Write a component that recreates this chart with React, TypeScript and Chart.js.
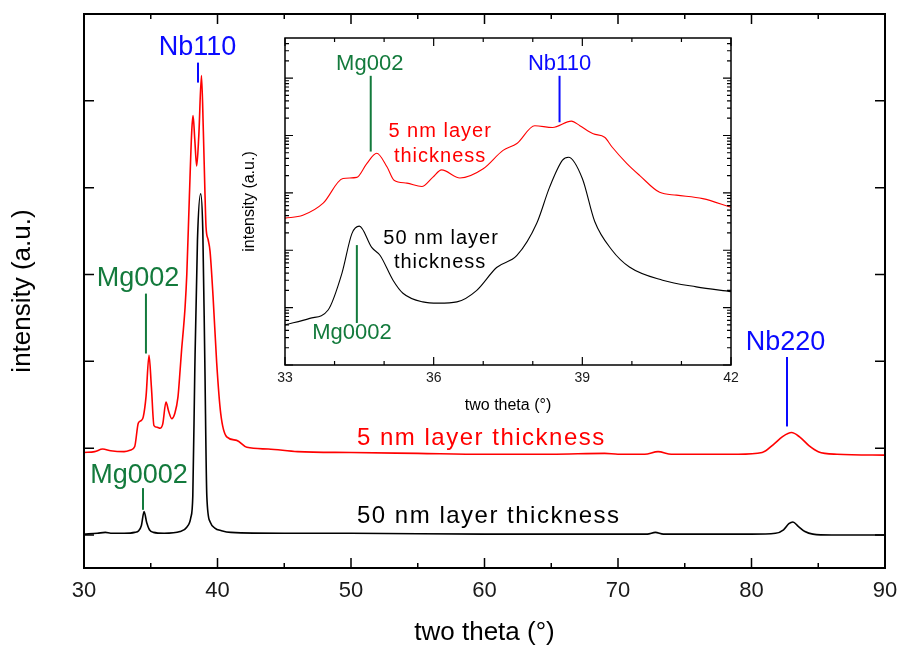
import React, { useEffect, useRef } from 'react';
import { Chart, registerables } from 'chart.js';

Chart.register(...registerables);

const FONT = '"Liberation Sans", Arial, Helvetica, sans-serif';
const RED = '#ff0000';
const BLUE = '#0a0aff';
const GREEN = '#137a3c';

// ---------- main chart data (2θ in degrees, intensity in arbitrary offset units) ----------
const mainX50 = [30, 31, 31.6, 32, 33, 33.8, 34.1, 34.3, 34.5, 34.7, 34.9, 35.2, 36, 37.2, 37.7, 38.0, 38.15, 38.3, 38.5, 38.74, 38.9, 39.05, 39.2, 39.45, 39.8, 40.3, 41, 45, 50, 60, 70, 72.2, 72.8, 73.4, 80, 81.8, 82.4, 82.8, 83.1, 83.5, 84, 84.6, 86, 90];
const main50 = [0.01, 0.02, 0.03, 0.02, 0.02, 0.03, 0.05, 0.11, 0.27, 0.14, 0.06, 0.03, 0.02, 0.04, 0.09, 0.2, 0.45, 1.9, 3.4, 3.93, 3.5, 2.0, 0.45, 0.15, 0.08, 0.05, 0.03, 0.02, 0.02, 0.01, 0.01, 0.01, 0.03, 0.01, 0.01, 0.02, 0.06, 0.13, 0.15, 0.1, 0.04, 0.01, 0.0, 0.0];

const mainX5 = [30, 30.8, 31.4, 32, 33, 33.5, 33.8, 34.07, 34.3, 34.44, 34.65, 34.87, 35.05, 35.24, 35.5, 35.69, 35.9, 36.14, 36.35, 36.57, 36.8, 37.04, 37.2, 37.32, 37.44, 37.57, 37.7, 37.89, 38.07, 38.17, 38.3, 38.44, 38.6, 38.8, 38.94, 39.05, 39.14, 39.3, 39.44, 39.67, 39.94, 40.24, 40.69, 41.44, 42.2, 43.8, 46, 50, 55, 60, 65, 69, 70, 72, 73, 74, 76, 79, 80.8, 81.7, 82.3, 83, 83.6, 84.3, 85, 86.4, 90];
const main5 = [0.95, 0.96, 0.99, 0.97, 0.96, 0.98, 1.02, 1.29, 1.32, 1.36, 1.6, 2.07, 1.7, 1.26, 1.24, 1.23, 1.28, 1.53, 1.42, 1.34, 1.4, 1.59, 1.9, 2.15, 2.36, 2.62, 3.0, 3.88, 4.65, 4.83, 4.55, 4.25, 4.6, 5.29, 4.65, 4.0, 3.55, 3.4, 3.27, 2.74, 1.98, 1.4, 1.13, 1.09, 1.01, 0.99, 0.96, 0.95, 0.94, 0.93, 0.93, 0.94, 0.93, 0.93, 0.96, 0.93, 0.93, 0.93, 0.95, 1.05, 1.13, 1.18, 1.13, 1.03, 0.96, 0.93, 0.92];

const mainXTicks = [30, 40, 50, 60, 70, 80, 90];
const mainXMinor = [35, 45, 55, 65, 75, 85];
const mainYTicks = [0, 1, 2, 3, 4, 5, 6];

// ---------- inset data (log intensity) ----------
const insetX5 = [33.0, 33.36, 33.77, 34.17, 34.45, 34.65, 34.85, 35.06, 35.2, 35.46, 35.76, 35.98, 36.16, 36.53, 37.0, 37.4, 37.68, 38.04, 38.4, 38.78, 38.95, 39.22, 39.45, 39.6, 39.9, 40.16, 40.56, 40.9, 41.43, 42.0];
const inset5 = [363, 407, 661, 1778, 1862, 3236, 4898, 2818, 1660, 1479, 1288, 1862, 2512, 1820, 2630, 5495, 7244, 14800, 13800, 17800, 14800, 10700, 9330, 6300, 3240, 2000, 1020, 912, 794, 562];

const insetX50 = [33.0, 33.5, 33.87, 34.15, 34.35, 34.5, 34.75, 34.92, 35.18, 35.38, 35.78, 36.1, 36.47, 36.87, 37.27, 37.68, 38.08, 38.34, 38.6, 38.72, 39.0, 39.25, 39.6, 39.95, 40.62, 41.3, 42.0];
const inset50 = [5.0, 6.5, 9.1, 40, 195, 263, 112, 81, 30, 17.8, 12.6, 12.0, 12.6, 20, 50, 81, 295, 1259, 3715, 4169, 1778, 316, 100, 51, 30, 23, 19];

const insetXTicks = [33, 36, 39, 42];
const insetXMinor = [34, 35, 37, 38, 40, 41];
const insetYDecades = [1, 10, 100, 1000, 10000, 100000];
const insetYMinor = [2, 3, 4, 5, 6, 7, 8, 9, 20, 30, 40, 50, 60, 70, 80, 90, 200, 300, 400, 500, 600, 700, 800, 900, 2000, 3000, 4000, 5000, 6000, 7000, 8000, 9000, 20000, 30000, 40000, 50000, 60000, 70000, 80000, 90000, 200000, 300000, 400000];

// ---------- annotations ----------
type Label = { text: string; x: number; y: number; color: string; size: number; align?: CanvasTextAlign; spacing?: number };
type Marker = { x: number; y1: number; y2: number; color: string };

const mainLabels: Label[] = [
  { text: 'Nb110', x: 38.5, y: 5.61, color: BLUE, size: 27 },
  { text: 'Mg002', x: 34.04, y: 2.95, color: GREEN, size: 27 },
  { text: 'Mg0002', x: 34.12, y: 0.68, color: GREEN, size: 27 },
  { text: 'Nb220', x: 82.55, y: 2.22, color: BLUE, size: 27 },
  { text: '5 nm layer thickness', x: 50.45, y: 1.11, color: RED, size: 24, align: 'left', spacing: 1.5 },
  { text: '50 nm layer thickness', x: 50.45, y: 0.21, color: '#000', size: 24, align: 'left', spacing: 1.5 },
];
const mainMarkers: Marker[] = [
  { x: 38.54, y1: 5.44, y2: 5.21, color: BLUE },
  { x: 34.64, y1: 2.78, y2: 2.09, color: GREEN },
  { x: 34.42, y1: 0.54, y2: 0.29, color: GREEN },
  { x: 82.66, y1: 2.05, y2: 1.25, color: BLUE },
];

const insetLabels: Label[] = [
  { text: 'Mg002', x: 34.71, y: 177800, color: GREEN, size: 22 },
  { text: 'Nb110', x: 38.54, y: 177800, color: BLUE, size: 22 },
  { text: '5 nm layer', x: 36.13, y: 11750, color: RED, size: 20, spacing: 1 },
  { text: 'thickness', x: 36.13, y: 4266, color: RED, size: 20, spacing: 1 },
  { text: '50 nm layer', x: 36.15, y: 162, color: '#000', size: 20, spacing: 1 },
  { text: 'thickness', x: 36.13, y: 61.7, color: '#000', size: 20, spacing: 1 },
  { text: 'Mg0002', x: 34.35, y: 3.6, color: GREEN, size: 22 },
];
const insetMarkers: Marker[] = [
  { x: 34.73, y1: 109600, y2: 5250, color: GREEN },
  { x: 38.54, y1: 109600, y2: 17000, color: BLUE },
  { x: 34.45, y1: 123, y2: 5.4, color: GREEN },
];

const pts = (xs: number[], ys: number[]) => xs.map((x, i) => ({ x, y: ys[i] }));

type FrameCfg = { xMajor: number[]; xMinor: number[]; yMajor: number[]; yMinor: number[]; majorLen: number; minorLen: number; tickWidth: number; frameWidth: number };

function decorPlugin(id: string, frame: FrameCfg, labels: Label[], markers: Marker[]) {
  return {
    id,
    afterDatasetsDraw(chart: any) {
      const { ctx, chartArea: a } = chart;
      const xs = chart.scales.x;
      const ys = chart.scales.y;
      ctx.save();
      ctx.strokeStyle = '#000';
      ctx.lineWidth = frame.tickWidth;
      ctx.beginPath();
      const hx = (vals: number[], len: number) =>
        vals.forEach((v) => {
          const p = xs.getPixelForValue(v);
          ctx.moveTo(p, a.bottom);
          ctx.lineTo(p, a.bottom - len);
          ctx.moveTo(p, a.top);
          ctx.lineTo(p, a.top + len);
        });
      const vy = (vals: number[], len: number) =>
        vals.forEach((v) => {
          const p = ys.getPixelForValue(v);
          ctx.moveTo(a.left, p);
          ctx.lineTo(a.left + len, p);
          ctx.moveTo(a.right, p);
          ctx.lineTo(a.right - len, p);
        });
      hx(frame.xMajor, frame.majorLen);
      hx(frame.xMinor, frame.minorLen);
      vy(frame.yMajor, frame.majorLen);
      vy(frame.yMinor, frame.minorLen);
      ctx.stroke();
      ctx.lineWidth = frame.frameWidth;
      ctx.strokeRect(a.left, a.top, a.right - a.left, a.bottom - a.top);

      markers.forEach((m) => {
        ctx.strokeStyle = m.color;
        ctx.lineWidth = 2;
        ctx.beginPath();
        const px = xs.getPixelForValue(m.x);
        ctx.moveTo(px, ys.getPixelForValue(m.y1));
        ctx.lineTo(px, ys.getPixelForValue(m.y2));
        ctx.stroke();
      });
      labels.forEach((l) => {
        ctx.font = `${l.size}px ${FONT}`;
        ctx.fillStyle = l.color;
        ctx.textAlign = l.align || 'center';
        ctx.textBaseline = 'middle';
        (ctx as any).letterSpacing = `${l.spacing || 0}px`;
        ctx.fillText(l.text, xs.getPixelForValue(l.x), ys.getPixelForValue(l.y));
      });
      (ctx as any).letterSpacing = '0px';
      ctx.restore();
    },
  };
}

export default function App() {
  const mainRef = useRef<HTMLCanvasElement | null>(null);
  const insetRef = useRef<HTMLCanvasElement | null>(null);

  useEffect(() => {
    if (!mainRef.current || !insetRef.current) return;

    const main = new Chart(mainRef.current, {
      type: 'line',
      data: {
        datasets: [
          { label: '50 nm layer thickness', data: pts(mainX50, main50), borderColor: '#000', borderWidth: 1.6, pointRadius: 0, cubicInterpolationMode: 'monotone' },
          { label: '5 nm layer thickness', data: pts(mainX5, main5), borderColor: RED, borderWidth: 1.6, pointRadius: 0, cubicInterpolationMode: 'monotone' },
        ],
      },
      options: {
        animation: false,
        responsive: false,
        devicePixelRatio: 1,
        layout: { padding: { top: 14, right: 13, left: 0, bottom: 0 } },
        plugins: { legend: { display: false }, tooltip: { enabled: false } },
        scales: {
          x: {
            type: 'linear',
            min: 30,
            max: 90,
            afterFit: (s: any) => { s.height = 78; s.paddingLeft = 0; s.paddingRight = 0; },
            afterBuildTicks: (s: any) => { s.ticks = mainXTicks.map((v) => ({ value: v })); },
            grid: { display: false, drawTicks: false },
            border: { display: false },
            ticks: { padding: 10, color: '#1a1a1a', font: { family: FONT, size: 22 } },
            title: { display: true, text: 'two theta (°)', color: '#000', font: { family: FONT, size: 26, lineHeight: 1 }, padding: { top: 0, bottom: 0 } },
          },
          y: {
            type: 'linear',
            min: -0.38,
            max: 6,
            afterFit: (s: any) => { s.width = 84; s.paddingTop = 0; s.paddingBottom = 0; },
            grid: { display: false, drawTicks: false },
            border: { display: false },
            ticks: { display: false },
            title: { display: true, text: 'intensity (a.u.)', color: '#000', font: { family: FONT, size: 26, lineHeight: 1 }, padding: { top: 10, bottom: 0 } },
          },
        },
      } as any,
      plugins: [
        decorPlugin('mainDecor', { xMajor: mainXTicks, xMinor: mainXMinor, yMajor: mainYTicks, yMinor: [], majorLen: 10, minorLen: 5, tickWidth: 1.5, frameWidth: 2 }, mainLabels, mainMarkers),
      ],
    } as any);

    const inset = new Chart(insetRef.current, {
      type: 'line',
      data: {
        datasets: [
          { label: '50 nm', data: pts(insetX50, inset50), borderColor: '#000', borderWidth: 1.1, pointRadius: 0, cubicInterpolationMode: 'monotone' },
          { label: '5 nm', data: pts(insetX5, inset5), borderColor: RED, borderWidth: 1.1, pointRadius: 0, cubicInterpolationMode: 'monotone' },
        ],
      },
      options: {
        animation: false,
        responsive: false,
        devicePixelRatio: 1,
        layout: { padding: { top: 8, right: 17, left: 0, bottom: 0 } },
        plugins: { legend: { display: false }, tooltip: { enabled: false } },
        scales: {
          x: {
            type: 'linear',
            min: 33,
            max: 42,
            afterFit: (s: any) => { s.height = 55; s.paddingLeft = 0; s.paddingRight = 0; },
            afterBuildTicks: (s: any) => { s.ticks = insetXTicks.map((v) => ({ value: v })); },
            grid: { display: false, drawTicks: false },
            border: { display: false },
            ticks: { padding: 5, color: '#1a1a1a', font: { family: FONT, size: 14 } },
            title: { display: true, text: 'two theta (°)', color: '#000', font: { family: FONT, size: 16 }, padding: { top: 0, bottom: 5 } },
          },
          y: {
            type: 'logarithmic',
            min: 1,
            max: 500000,
            afterFit: (s: any) => { s.width = 57; s.paddingTop = 0; s.paddingBottom = 0; },
            grid: { display: false, drawTicks: false },
            border: { display: false },
            ticks: { display: false },
            title: { display: true, text: 'intensity (a.u.)', color: '#000', font: { family: FONT, size: 16 }, padding: { top: 12, bottom: 0 } },
          },
        },
      } as any,
      plugins: [
        decorPlugin('insetDecor', { xMajor: insetXTicks, xMinor: insetXMinor, yMajor: insetYDecades, yMinor: insetYMinor, majorLen: 8, minorLen: 4, tickWidth: 1.2, frameWidth: 1.5 }, insetLabels, insetMarkers),
      ],
    } as any);

    return () => {
      main.destroy();
      inset.destroy();
    };
  }, []);

  return (
    <div style={{ position: 'absolute', left: 0, top: 0, width: 898, height: 646, background: '#fff' }}>
      <canvas ref={mainRef} width={898} height={646} style={{ position: 'absolute', left: 0, top: 0, width: 898, height: 646 }} />
      <canvas ref={insetRef} width={520} height={390} style={{ position: 'absolute', left: 228, top: 30, width: 520, height: 390 }} />
    </div>
  );
}
